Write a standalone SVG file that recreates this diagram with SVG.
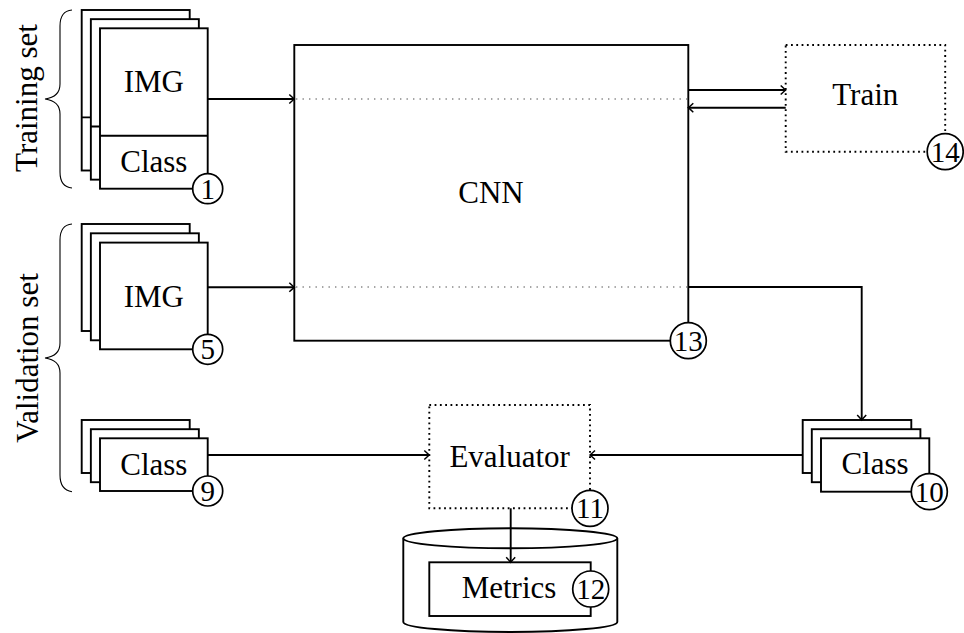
<svg xmlns="http://www.w3.org/2000/svg" width="964" height="633" viewBox="0 0 964 633">
  <defs>
    <style>
      .box { fill: #fff; stroke: #000; stroke-width: 1.9; }
      .dotbox { fill: #fff; stroke: #000; stroke-width: 1.9; stroke-dasharray: 1.8 3.5; }
      .guide { fill: none; stroke: #888; stroke-width: 1.4; stroke-dasharray: 1.4 5.1; }
      .line { fill: none; stroke: #000; stroke-width: 1.9; }
      .brace { fill: none; stroke: #000; stroke-width: 1.1; }
      .conn { fill: none; stroke: #000; stroke-width: 1.9; marker-end: url(#tip); }
      .num { fill: #fff; stroke: #000; stroke-width: 1.7; }
      text { font-family: "Liberation Serif", "DejaVu Serif", serif; font-size: 31px; fill: #000; text-anchor: middle; }
      text.n { font-size: 29px; }
    </style>
    <marker id="tip" markerUnits="userSpaceOnUse" markerWidth="10" markerHeight="10" orient="auto" refX="0" refY="0" overflow="visible">
      <path d="M-5,-4.5 Q-1.5,-1.2 0,0 Q-1.5,1.2 -5,4.5" fill="none" stroke="#000" stroke-width="1.5"/>
    </marker>
  </defs>

  <!-- group labels with braces -->
  <g id="training-set">
    <path class="brace" d="M72,10 Q60,11 60,26 V84 Q60,97 45,99 Q60,101 60,114 V172 Q60,187 72,188"/>
    <text transform="translate(37,98) rotate(-90)">Training set</text>
  </g>
  <g id="validation-set">
    <path class="brace" d="M72,224 Q60,225 60,240 V343 Q60,356 45,358 Q60,360 60,373 V475 Q60,490 72,491.7"/>
    <text transform="translate(38,358) rotate(-90)">Validation set</text>
  </g>

  <!-- training images with classes -->
  <g id="n1">
    <rect class="box" x="81.7" y="10" width="108" height="160.5"/>
    <line class="line" x1="81.7" y1="117.4" x2="189.7" y2="117.4"/>
    <rect class="box" x="90.85" y="19.15" width="108" height="160.5"/>
    <line class="line" x1="90.85" y1="126.55" x2="198.85" y2="126.55"/>
    <rect class="box" x="100" y="28.3" width="107.7" height="160.4"/>
    <line class="line" x1="100" y1="135.7" x2="207.7" y2="135.7"/>
    <text x="153.8" y="92.3">IMG</text>
    <text x="153.8" y="172">Class</text>
    <circle class="num" cx="207.7" cy="188.7" r="15"/>
    <text class="n" x="207.7" y="198.5">1</text>
  </g>

  <!-- validation images -->
  <g id="n5">
    <rect class="box" x="81.7" y="224" width="108" height="107"/>
    <rect class="box" x="90.85" y="233.3" width="108" height="107"/>
    <rect class="box" x="100" y="242.6" width="107.7" height="106.7"/>
    <text x="153.8" y="306.7">IMG</text>
    <circle class="num" cx="207.7" cy="349.3" r="15"/>
    <text class="n" x="207.7" y="359.1">5</text>
  </g>

  <!-- validation classes -->
  <g id="n9">
    <rect class="box" x="81.7" y="420" width="108" height="53"/>
    <rect class="box" x="90.85" y="429.2" width="108" height="53"/>
    <rect class="box" x="100" y="438.3" width="107.7" height="52.7"/>
    <text x="153.8" y="475">Class</text>
    <circle class="num" cx="207.7" cy="491" r="15"/>
    <text class="n" x="207.7" y="500.8">9</text>
  </g>

  <!-- network -->
  <g id="n13">
    <rect class="box" x="294.3" y="45" width="394" height="295.7"/>
    <line class="guide" x1="296" y1="99" x2="687" y2="99"/>
    <line class="guide" x1="296" y1="287" x2="687" y2="287"/>
    <text x="491" y="203.3">CNN</text>
    <circle class="num" cx="688.3" cy="340.7" r="18"/>
    <text class="n" x="688.3" y="350.5">13</text>
  </g>

  <!-- training procedure -->
  <g id="n14">
    <rect class="dotbox" x="785.7" y="45" width="159.5" height="106.7"/>
    <text x="865.3" y="105">Train</text>
    <circle class="num" cx="945.2" cy="151.7" r="18"/>
    <text class="n" x="945.2" y="161.5">14</text>
  </g>

  <!-- predicted classes -->
  <g id="n10">
    <rect class="box" x="802.7" y="420" width="108.6" height="53"/>
    <rect class="box" x="811.8" y="429.2" width="108.6" height="53"/>
    <rect class="box" x="821" y="438.3" width="108.3" height="53.4"/>
    <text x="875" y="474">Class</text>
    <circle class="num" cx="929.3" cy="491.7" r="18"/>
    <text class="n" x="929.3" y="501.5">10</text>
  </g>

  <!-- evaluator -->
  <g id="n11">
    <rect class="dotbox" x="429.3" y="405" width="160.7" height="103.3"/>
    <text x="509.7" y="467.3">Evaluator</text>
    <circle class="num" cx="590" cy="508.3" r="18"/>
    <text class="n" x="590" y="518.1">11</text>
  </g>

  <!-- metrics store -->
  <g id="n12">
    <path class="box" d="M403.3,538.3 V622 A107,10 0 0 0 617.3,622 V538.3"/>
    <ellipse class="box" cx="510.3" cy="538.3" rx="107" ry="10"/>
    <rect class="box" x="429.3" y="562.3" width="161.4" height="53.7"/>
    <text x="509" y="598.3">Metrics</text>
    <circle class="num" cx="590.7" cy="589" r="18"/>
    <text class="n" x="590.7" y="598.8">12</text>
  </g>

  <!-- connectors -->
  <g id="connectors">
    <line class="conn" x1="207.7" y1="99" x2="294.3" y2="99"/>
    <line class="conn" x1="207.7" y1="287.3" x2="294.3" y2="287.3"/>
    <line class="conn" x1="688.3" y1="90" x2="785.7" y2="90"/>
    <line class="conn" x1="785.7" y1="107.7" x2="688.3" y2="107.7"/>
    <path class="conn" d="M688.3,287 H861.7 V420"/>
    <line class="conn" x1="207.7" y1="455" x2="429.3" y2="455"/>
    <line class="conn" x1="802.7" y1="455" x2="590" y2="455"/>
    <line class="conn" x1="510.7" y1="508.3" x2="510.7" y2="562.3"/>
  </g>
</svg>
